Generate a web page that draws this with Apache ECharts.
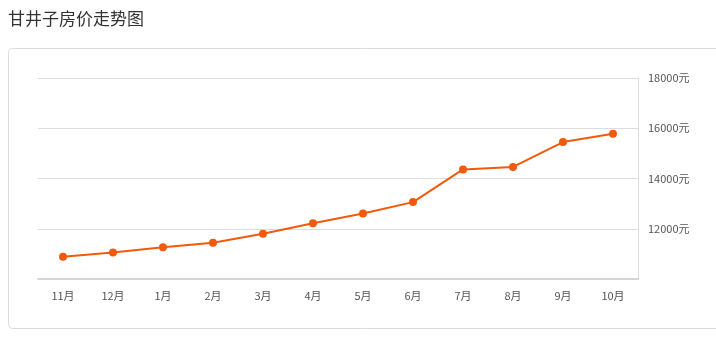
<!DOCTYPE html>
<html><head><meta charset="utf-8">
<script src="https://cdn.jsdelivr.net/npm/echarts@6/dist/echarts.min.js"></script>
<style>html,body{margin:0;padding:0;background:#fff;}#c{width:716px;height:342px;}</style>
</head><body><div id="c"></div>
<script>
const titleText = '甘井子房价走势图';
const categories = ['11月','12月','1月','2月','3月','4月','5月','6月','7月','8月','9月','10月'];
const prices = [10890, 11050, 11260, 11440, 11800, 12220, 12610, 13060, 14360, 14460, 15450, 15780];
const yMin = 10000, yMax = 18000, yStep = 2000;
const unit = '元';

const chart = echarts.init(document.getElementById('c'));
const font = '"Noto Sans CJK SC", "Noto Sans", sans-serif';
chart.setOption({
  animation: false,
  title: {text: titleText, left: 8, top: 10, padding: 0, textStyle: {fontFamily: font, fontSize: 17, fontWeight: 'normal', color: '#333'}},
  graphic: [{type: 'rect', x: 8.5, y: 48.5, shape: {x: 0, y: 0, width: 720, height: 280, r: 4}, style: {fill: 'none', stroke: '#dcdcdc', lineWidth: 1}, z: -1}],
  grid: {left: 38, right: 78, top: 78, bottom: 63},
  xAxis: {
    type: 'category', data: categories, boundaryGap: true,
    axisLine: {lineStyle: {color: '#d6d6d6', width: 2}},
    axisTick: {alignWithLabel: true, length: 5, lineStyle: {color: '#ddd'}},
    axisLabel: {color: '#555', fontSize: 11, fontFamily: font, margin: 11}
  },
  yAxis: {
    type: 'value', position: 'right', min: yMin, max: yMax, interval: yStep,
    axisLine: {show: true, lineStyle: {color: '#ddd'}},
    axisTick: {show: false},
    axisLabel: {color: '#555', fontSize: 11, fontFamily: font, margin: 10, formatter: v => v + unit, showMinLabel: false},
    splitLine: {lineStyle: {color: '#ddd'}}
  },
  series: [{
    type: 'line', data: prices, symbol: 'circle', symbolSize: 8,
    lineStyle: {color: '#f25a0b', width: 2}, itemStyle: {color: '#f25a0b'}
  }]
});
</script></body></html>
